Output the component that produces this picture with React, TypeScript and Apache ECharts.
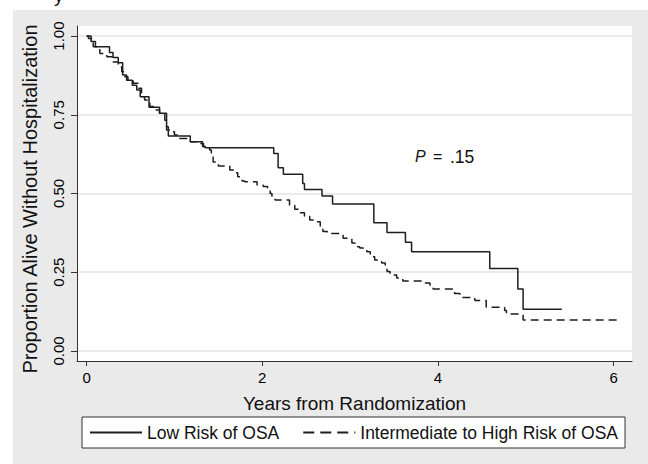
import React, { useEffect, useRef } from "react";
import * as echarts from "echarts";

const xTicks = [0, 2, 4, 6];
const yTicks = [0, 0.25, 0.5, 0.75, 1];
const seriesNames = ["Low Risk of OSA", "Intermediate to High Risk of OSA"];
const xTitle = "Years from Randomization";
const yTitle = "Proportion Alive Without Hospitalization";
const pValue = ".15";

// Kaplan-Meier steps: [years, proportion after the step]
const lowRisk: [number, number][] = [
  [0, 1.0], [0.05, 0.983], [0.1, 0.966], [0.26, 0.948], [0.3, 0.932], [0.36, 0.915],
  [0.41, 0.876], [0.455, 0.86], [0.52, 0.844], [0.57, 0.829], [0.61, 0.807], [0.71, 0.774],
  [0.83, 0.755], [0.91, 0.712], [0.93, 0.683], [1.18, 0.664], [1.32, 0.649], [1.35, 0.645],
  [2.13, 0.627], [2.18, 0.582], [2.24, 0.561], [2.46, 0.532], [2.48, 0.513], [2.68, 0.492],
  [2.8, 0.467], [3.27, 0.407], [3.42, 0.376], [3.63, 0.345], [3.7, 0.315], [4.59, 0.262],
  [4.91, 0.197], [4.97, 0.132], [5.41, 0.132],
];

const interHighRisk: [number, number][] = [
  [0, 1.0], [0.02, 0.992], [0.056, 0.982], [0.075, 0.966], [0.15, 0.945], [0.23, 0.934],
  [0.3, 0.918], [0.36, 0.902], [0.4, 0.887], [0.435, 0.871], [0.47, 0.86], [0.53, 0.85],
  [0.59, 0.834], [0.625, 0.807], [0.66, 0.797], [0.72, 0.776], [0.76, 0.765], [0.83, 0.755],
  [0.89, 0.733], [0.91, 0.702], [0.97, 0.696], [1.0, 0.686], [1.06, 0.675], [1.14, 0.67],
  [1.18, 0.664], [1.29, 0.659], [1.33, 0.649], [1.4, 0.638], [1.42, 0.622], [1.44, 0.6],
  [1.5, 0.587], [1.63, 0.575], [1.69, 0.566], [1.72, 0.553], [1.77, 0.54], [1.8, 0.537],
  [1.94, 0.527], [2.01, 0.522], [2.06, 0.511], [2.09, 0.5], [2.11, 0.489], [2.145, 0.479],
  [2.31, 0.463], [2.37, 0.45], [2.43, 0.439], [2.48, 0.428], [2.54, 0.416], [2.58, 0.41],
  [2.66, 0.395], [2.69, 0.379], [2.74, 0.373], [2.92, 0.358], [3.02, 0.343], [3.056, 0.331],
  [3.11, 0.327], [3.19, 0.315], [3.23, 0.299], [3.28, 0.289], [3.32, 0.283], [3.36, 0.279],
  [3.4, 0.268], [3.42, 0.252], [3.455, 0.241], [3.53, 0.232], [3.6, 0.222], [3.83, 0.216],
  [3.91, 0.204], [3.945, 0.197], [4.19, 0.182], [4.25, 0.17], [4.42, 0.16], [4.55, 0.139],
  [4.76, 0.128], [4.78, 0.117], [4.97, 0.098], [6.08, 0.098],
];

const FONT = "'Liberation Sans', Arial, Helvetica, sans-serif";
const INK = "#1e1e1e";
const TEXT = "#111111";

export default function App() {
  const ref = useRef<HTMLDivElement>(null);

  useEffect(() => {
    if (!ref.current) return;
    const chart = echarts.init(ref.current, null, { renderer: "svg" });
    chart.setOption({
      animation: false,
      backgroundColor: "transparent",
      grid: {
        left: 77,
        right: 16,
        top: 26,
        bottom: 103,
        show: true,
        backgroundColor: "#ffffff",
        borderWidth: 0,
      },
      xAxis: {
        type: "value",
        min: -0.11,
        max: 6.21,
        axisLine: { show: true, onZero: false, lineStyle: { color: "#333", width: 1 } },
        axisTick: { show: true, length: 5, customValues: xTicks, lineStyle: { color: "#333" } },
        axisLabel: {
          customValues: xTicks,
          fontSize: 15,
          color: "#000",
          margin: 9,
          fontFamily: FONT,
        },
        splitLine: { show: false },
      },
      yAxis: {
        type: "value",
        min: -0.032,
        max: 1.032,
        axisLine: { show: true, onZero: false, lineStyle: { color: "#333", width: 1 } },
        axisTick: { show: true, length: 6, customValues: yTicks, lineStyle: { color: "#333" } },
        axisLabel: {
          customValues: yTicks,
          rotate: 90,
          fontSize: 15,
          color: "#000",
          margin: 11,
          fontFamily: FONT,
          formatter: (v: number) => v.toFixed(2),
        },
        splitLine: { show: true, lineStyle: { color: "#e3e3e3", width: 1.5 } },
      },
      legend: {
        left: 82,
        top: 417,
        orient: "horizontal",
        backgroundColor: "#ffffff",
        borderColor: "#333",
        borderWidth: 1,
        borderRadius: 0,
        padding: [6.5, 7, 6.5, 7],
        itemWidth: 52,
        itemHeight: 14,
        itemGap: 23,
        itemStyle: { opacity: 0, borderWidth: 0 },
        textStyle: { fontSize: 17.5, color: TEXT, fontFamily: FONT },
        data: [
          { name: seriesNames[0] },
          { name: seriesNames[1], lineStyle: { type: [11, 6] } },
        ],
      },
      graphic: [
        {
          type: "text",
          left: 54,
          top: -14,
          style: { text: "y", font: `19px ${FONT}`, fill: TEXT },
        },
        {
          type: "text",
          x: 354.5,
          y: 403,
          style: {
            text: xTitle,
            font: `19px ${FONT}`,
            fill: TEXT,
            textAlign: "center",
            textVerticalAlign: "middle",
          },
        },
        {
          type: "text",
          x: 30,
          y: 199,
          rotation: Math.PI / 2,
          style: {
            text: yTitle,
            font: `20px ${FONT}`,
            fill: TEXT,
            textAlign: "center",
            textVerticalAlign: "middle",
          },
        },
        {
          type: "text",
          x: 415,
          y: 156.5,
          style: {
            text: `{i|P}{e| = }{v|${pValue}}`,
            font: `16px ${FONT}`,
            fill: TEXT,
            textVerticalAlign: "middle",
            rich: {
              i: { fontStyle: "italic", fontSize: 16, fontFamily: FONT, fill: TEXT },
              e: { fontSize: 16, fontFamily: FONT, fill: TEXT, padding: [0, 3, 0, 3] },
              v: { fontSize: 17.5, fontFamily: FONT, fill: TEXT },
            },
          },
        },
      ],
      series: [
        {
          name: seriesNames[0],
          type: "line",
          step: "end",
          data: lowRisk,
          symbol: "none",
          lineStyle: { color: INK, width: 1.5, type: "solid" },
          itemStyle: { color: INK },
          z: 3,
        },
        {
          name: seriesNames[1],
          type: "line",
          step: "end",
          data: interHighRisk,
          symbol: "none",
          lineStyle: { color: INK, width: 1.5, type: [8, 5] },
          itemStyle: { color: INK },
          z: 2,
        },
      ],
    });
    return () => chart.dispose();
  }, []);

  return (
    <div style={{ position: "fixed", left: 0, top: 0, width: 648, height: 464, background: "#ffffff" }}>
      <div style={{ position: "absolute", left: 13, top: 10, right: 0, bottom: 0, background: "#eaeaea" }} />
      <div ref={ref} style={{ position: "absolute", left: 0, top: 0, width: 648, height: 464 }} />
    </div>
  );
}
